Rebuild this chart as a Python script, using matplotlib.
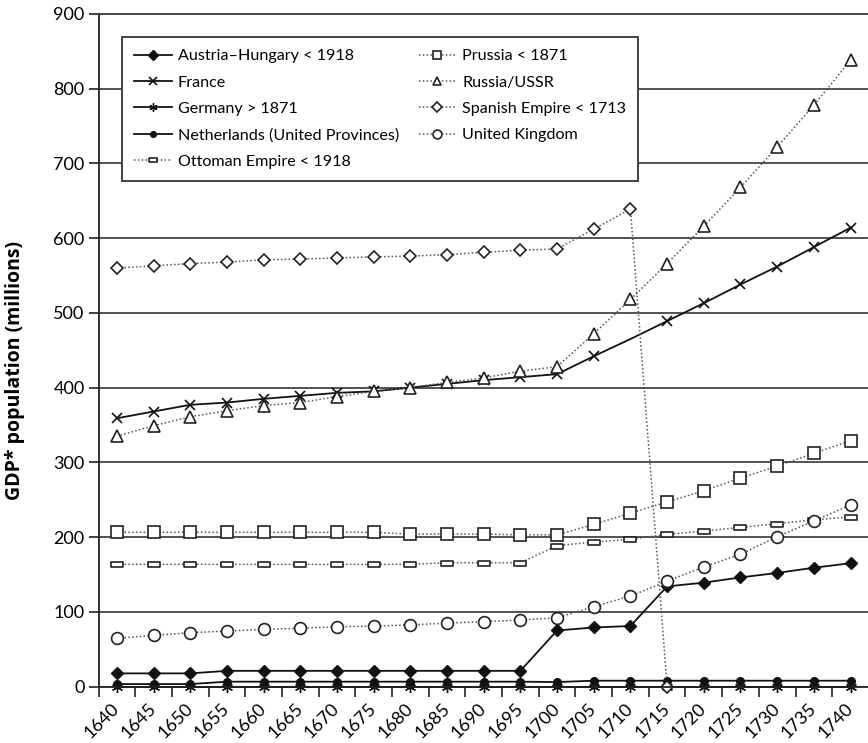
import numpy as np
import matplotlib
matplotlib.use("Agg")
import matplotlib.pyplot as plt
from matplotlib.path import Path

plt.rcParams["font.family"] = ["Lato", "DejaVu Sans"]

years = ["1640", "1645", "1650", "1655", "1660", "1665", "1670", "1675", "1680", "1685", "1690",
         "1695", "1700", "1705", "1710", "1715", "1720", "1725", "1730", "1735", "1740"]

austria = [17.6, 17.6, 17.6, 21, 21, 21, 21, 21, 21, 21, 21, 21,
           75, 79, 81, 134, 139, 146, 152, 159, 165]
france = [359, 368, 377, 380, 385, 389, 393, 395, 400, 405, 410, 414,
          418, 442, 465, 489, 513, 538, 562, 588, 614]
germany = [0, 0, 0, 0, 0, 0, 0, 0, 0, 0, 0, 0, 0, 0, 0, 0, 0, 0, 0, 0, 0]
netherlands = [3.3, 3.3, 3.3, 6.5, 6.5, 6.5, 6.5, 6.5, 6.5, 6.5, 6.5, 6.5,
               6, 7.8, 7.8, 7.8, 7.8, 7.8, 7.8, 7.8, 7.8]
ottoman = [163.5, 163.5, 163.5, 163.5, 163.5, 163.5, 163.5, 163.5, 163.5, 165.7, 165.7, 165.7,
           188.5, 193.4, 197, 203.7, 208, 213, 218, 223, 227]
prussia = [206.4, 206.4, 206.4, 206.4, 206.4, 206.4, 206.4, 206.4, 204, 204, 204, 203,
           203, 217, 232, 247, 262, 279, 295, 312, 329]
russia = [335, 349, 361, 369, 376, 380, 388, 395, 400, 407, 413, 422,
          428, 472, 518, 566, 616, 668, 722, 778, 838]
spanish = [560, 563, 566, 568, 571, 572, 573.5, 575, 576, 578, 581, 584,
           585.5, 612, 639, 0, np.nan, np.nan, np.nan, np.nan, np.nan]
uk = [64.5, 68.5, 72, 74.3, 76.5, 78, 80, 81, 82.3, 85, 86.7, 89,
      92, 107, 121, 141, 160, 177, 200.5, 221.5, 243]

# flat rectangle marker for the Ottoman series
rect = Path([(-1, -0.45), (1, -0.45), (1, 0.45), (-1, 0.45), (-1, -0.45)],
            [Path.MOVETO, Path.LINETO, Path.LINETO, Path.LINETO, Path.CLOSEPOLY])

fig = plt.figure(figsize=(8.68, 7.43), dpi=100)
ax = fig.add_axes([0.1135, 0.076, 0.8875, 0.9052])
x = np.arange(len(years))

solid = dict(color="#111111", lw=1.3, clip_on=False)
dot = dict(color="#555555", lw=1.1, ls=(0, (1, 1.5)), clip_on=False)
open_m = dict(mfc="white", mec="#222222", mew=1.2)

ax.plot(x, austria, marker="D", ms=6.5, mfc="#111111", mec="#111111", label="Austria\u2013Hungary < 1918", **solid)
ax.plot(x, france, marker="x", ms=7, mew=1.2, mec="#111111",
        markevery=[i for i in range(len(x)) if i != 14], label="France", **solid)
ax.plot(x, germany, marker=(6, 2, 0), ms=8, mew=1.0, mec="#111111", label="Germany > 1871", **solid)
ax.plot(x, netherlands, marker="o", ms=5.5, mfc="#111111", mec="#111111",
        label="Netherlands (United Provinces)", **solid)
ax.plot(x, ottoman, marker=rect, ms=8, label="Ottoman Empire < 1918", **open_m, **dot)
ax.plot(x, prussia, marker="s", ms=8, label="Prussia < 1871", **open_m, **dot)
ax.plot(x, russia, marker="^", ms=8, label="Russia/USSR", **open_m, **dot)
ax.plot(x, spanish, marker="D", ms=6.2, label="Spanish Empire < 1713", **open_m, **dot)
ax.plot(x, uk, marker="o", ms=8.5, label="United Kingdom", **open_m, **dot)

ax.set_xlim(-0.5, len(years) - 0.5)
ax.set_ylim(0, 900)
ax.set_yticks(np.arange(0, 901, 100))
ax.yaxis.grid(True, color="#444444", lw=1.3)
ax.set_axisbelow(True)

ax.set_xticks(np.arange(-0.5, len(years), 1.0))
ax.set_xticklabels([])
ax.set_xticks(x, minor=True)
ax.set_xticklabels(years, minor=True, rotation=45, ha="right", va="center",
                   rotation_mode="anchor", fontsize=13)
ax.tick_params(axis="x", which="major", length=7, width=1.2, color="#222222")
ax.tick_params(axis="x", which="minor", length=0, pad=14)
ax.tick_params(axis="y", length=7, width=1.2, color="#222222", labelsize=13, pad=3)

for s in ["left", "bottom"]:
    ax.spines[s].set_color("#222222")
    ax.spines[s].set_linewidth(1.3)
ax.spines["top"].set_color("#444444")
ax.spines["top"].set_linewidth(1.3)
ax.spines["right"].set_visible(False)

ax.set_ylabel("GDP* population (millions)", fontsize=14, fontweight="bold",
              family=["Open Sans", "DejaVu Sans"])
ax.yaxis.set_label_coords(-0.095, 0.47)

leg = ax.legend(ncol=2, loc="upper left", bbox_to_anchor=(0.031, 0.966), borderaxespad=0,
                fontsize=11.6, handlelength=2.3, labelspacing=0.75, columnspacing=1.2,
                handletextpad=0.4, fancybox=False, framealpha=1, edgecolor="#333333",
                borderpad=0.75, markerscale=0.75)
leg.get_frame().set_linewidth(1.3)

fig.savefig("out.png", dpi=100)
